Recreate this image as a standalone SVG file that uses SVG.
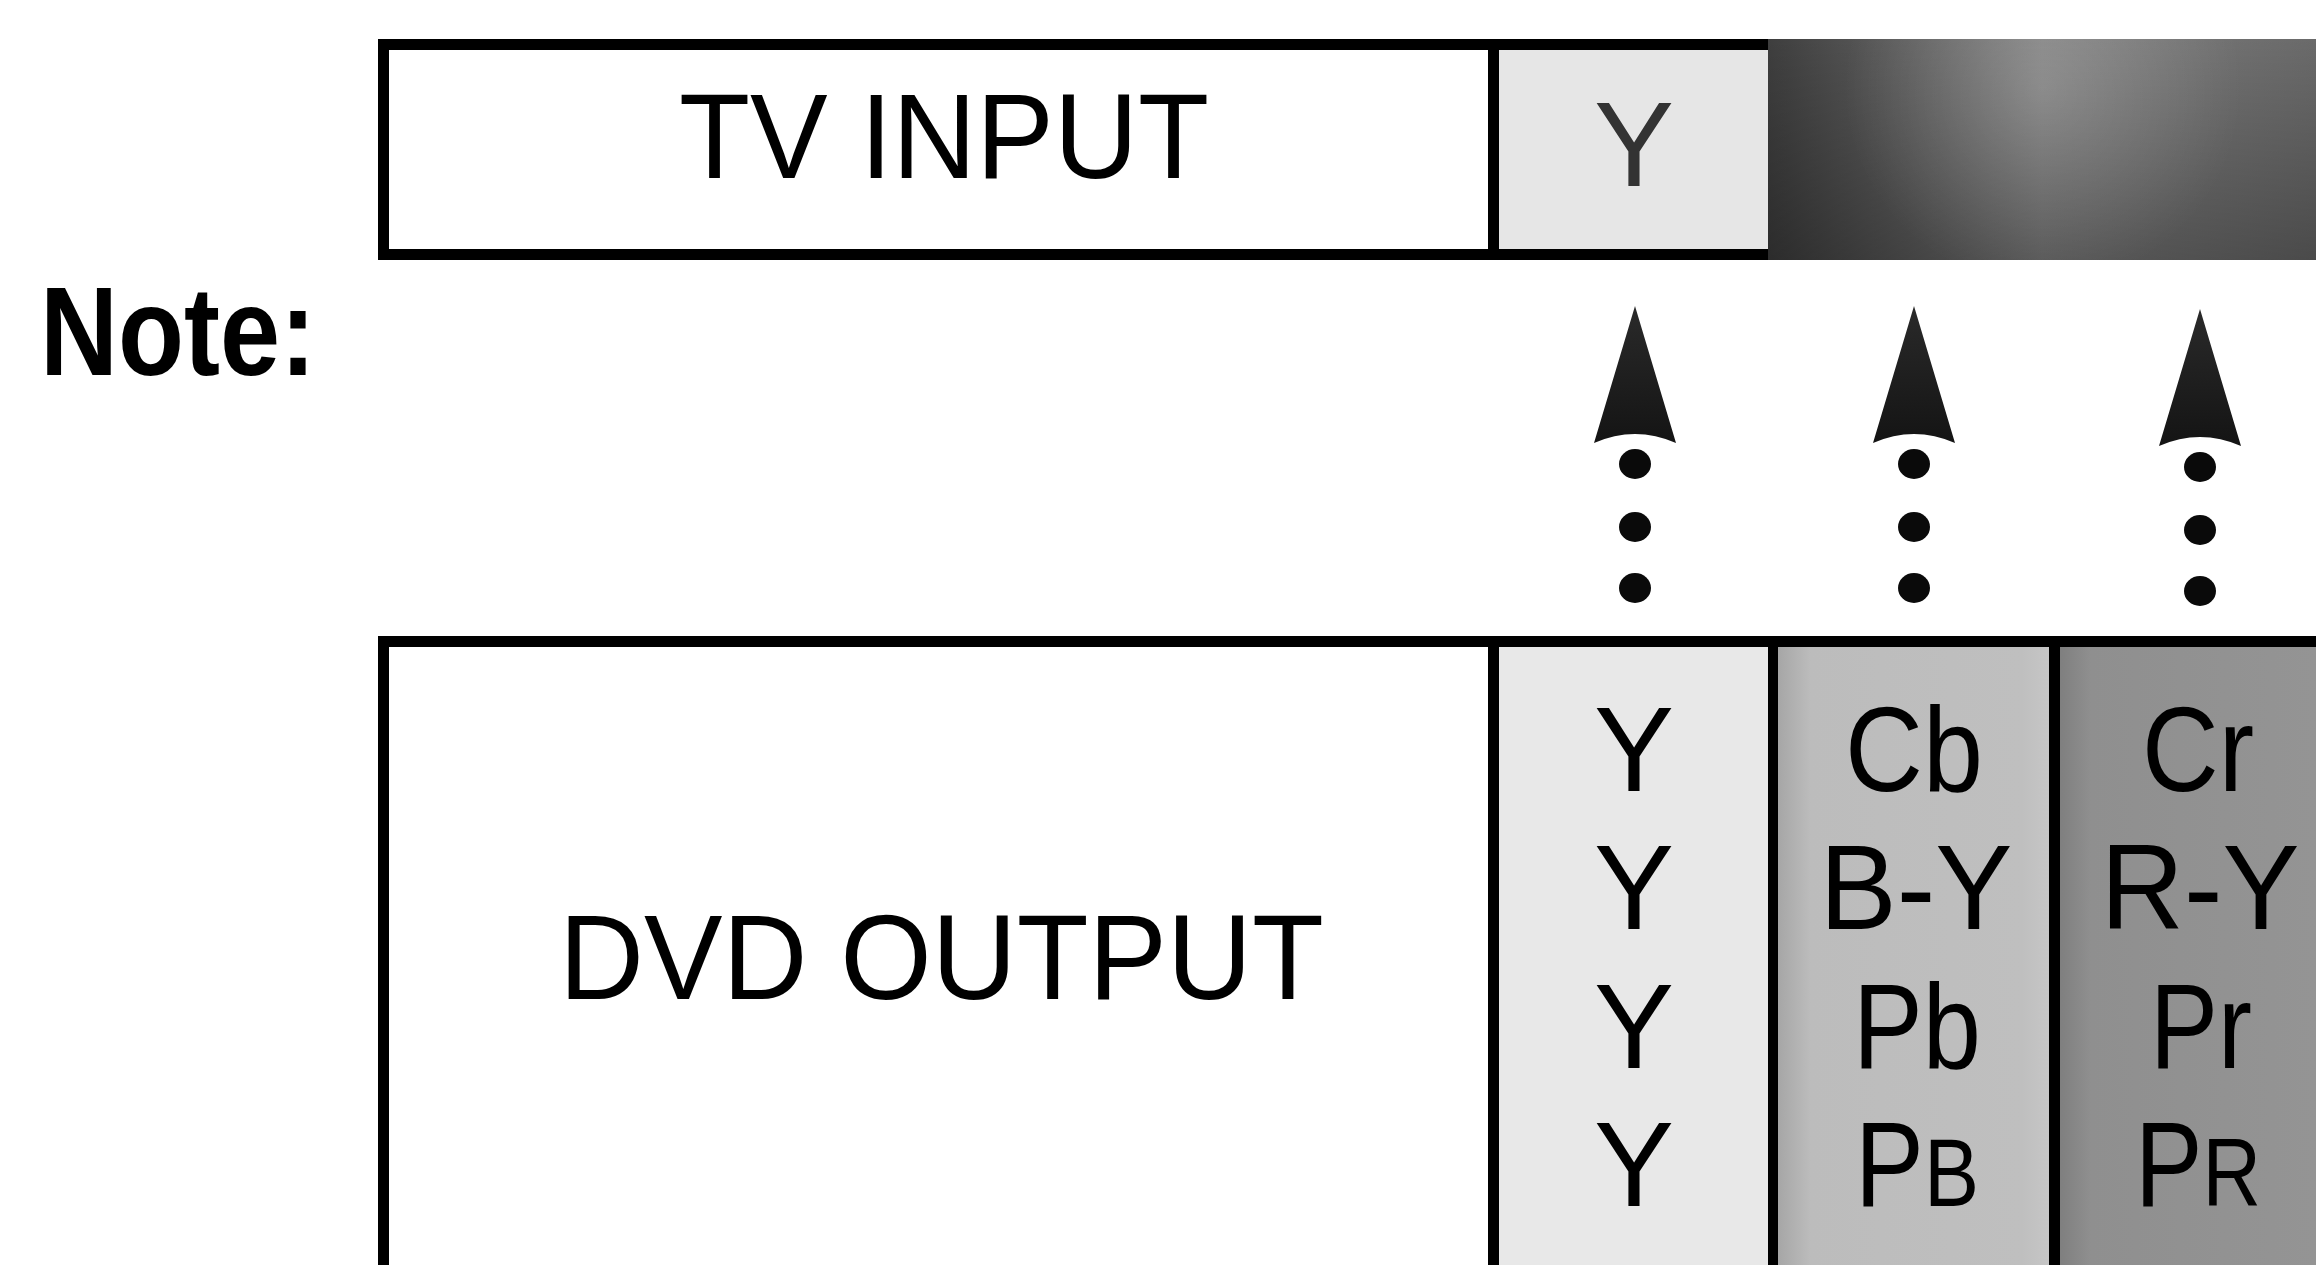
<svg xmlns="http://www.w3.org/2000/svg" width="2316" height="1265" viewBox="0 0 2316 1265">
  <defs>
    <style>
      .lbl { font-family: "Liberation Sans", Arial, sans-serif; font-size: 120px; fill: #000; }
      .mid { text-anchor: middle; }
      .note { font-family: "Liberation Sans", Arial, sans-serif; font-size: 126px; font-weight: bold; fill: #000; }
      .bar { fill: none; stroke: #000; stroke-width: 11; }
      .dot { fill: #0a0a0a; }
    </style>
    <linearGradient id="topBorder" gradientUnits="userSpaceOnUse" x1="1130" y1="0" x2="1770" y2="0">
      <stop offset="0" stop-color="#000"/>
      <stop offset="1" stop-color="#444"/>
    </linearGradient>
    <linearGradient id="darkBase" gradientUnits="userSpaceOnUse" x1="1768" y1="0" x2="2316" y2="0">
      <stop offset="0" stop-color="#3e3e3e"/>
      <stop offset="0.5" stop-color="#7e7e7e"/>
      <stop offset="1" stop-color="#6a6a6a"/>
    </linearGradient>
    <linearGradient id="darkShade" gradientUnits="userSpaceOnUse" x1="0" y1="39" x2="0" y2="260">
      <stop offset="0" stop-color="#000" stop-opacity="0"/>
      <stop offset="1" stop-color="#000" stop-opacity="0.3"/>
    </linearGradient>
    <radialGradient id="darkGlow" gradientUnits="userSpaceOnUse" cx="2043" cy="87" r="200">
      <stop offset="0" stop-color="#fff" stop-opacity="0.16"/>
      <stop offset="1" stop-color="#fff" stop-opacity="0"/>
    </radialGradient>
    <linearGradient id="colB" gradientUnits="userSpaceOnUse" x1="1778" y1="0" x2="2049" y2="0">
      <stop offset="0" stop-color="#a6a6a6"/>
      <stop offset="0.12" stop-color="#bcbcbc"/>
      <stop offset="0.9" stop-color="#bfbfbf"/>
      <stop offset="1" stop-color="#c6c6c6"/>
    </linearGradient>
    <linearGradient id="colC" gradientUnits="userSpaceOnUse" x1="2060" y1="0" x2="2316" y2="0">
      <stop offset="0" stop-color="#7f7f7f"/>
      <stop offset="0.12" stop-color="#8f8f8f"/>
      <stop offset="1" stop-color="#949494"/>
    </linearGradient>
    <linearGradient id="arrowFill" x1="0" y1="0" x2="0" y2="1">
      <stop offset="0" stop-color="#2a2a2a"/>
      <stop offset="1" stop-color="#141414"/>
    </linearGradient>
    <path id="head" d="M0,0 L41,137 Q0,119 -41,137 Z" fill="url(#arrowFill)"/>
  </defs>

  <rect x="0" y="0" width="2316" height="1265" fill="#fff"/>

  <g id="note">
    <text class="note" x="40" y="375" textLength="276" lengthAdjust="spacingAndGlyphs">Note:</text>
  </g>

  <g id="tv-input">
    <rect x="1499" y="50" width="269" height="199" fill="#e6e6e6"/>
    <path class="bar" d="M383.5,39 V260"/>
    <path class="bar" d="M378,44.5 H1770" stroke="url(#topBorder)"/>
    <path class="bar" d="M378,254.5 H1770" stroke="url(#topBorder)"/>
    <path class="bar" d="M1493.5,50 V249" stroke="#111"/>
    <rect x="1768" y="39" width="548" height="221" fill="url(#darkBase)"/>
    <rect x="1768" y="39" width="548" height="221" fill="url(#darkShade)"/>
    <rect x="1768" y="39" width="548" height="221" fill="url(#darkGlow)"/>
    <text class="lbl" x="679" y="178" textLength="530" lengthAdjust="spacingAndGlyphs">TV INPUT</text>
    <text class="lbl mid" x="1634" y="186" fill="#333" style="fill:#333">Y</text>
  </g>

  <g id="dvd-output">
    <rect x="1499" y="647" width="269" height="618" fill="#e8e8e8"/>
    <rect x="1778" y="647" width="271" height="618" fill="url(#colB)"/>
    <rect x="2060" y="647" width="256" height="618" fill="url(#colC)"/>
    <path class="bar" d="M383.5,636 V1265"/>
    <path class="bar" d="M378,641.5 H2316"/>
    <path class="bar" d="M1493.5,647 V1265"/>
    <path class="bar" d="M1773,647 V1265" style="stroke-width:10"/>
    <path class="bar" d="M2054.5,647 V1265"/>
    <text class="lbl" x="559" y="999" textLength="765" lengthAdjust="spacingAndGlyphs">DVD OUTPUT</text>
    <text class="lbl mid" x="1634" y="791">Y</text>
    <text class="lbl mid" x="1634" y="929">Y</text>
    <text class="lbl mid" x="1634" y="1068">Y</text>
    <text class="lbl mid" x="1634" y="1206">Y</text>
    <text class="lbl mid" x="1914" y="791" textLength="138" lengthAdjust="spacingAndGlyphs">Cb</text>
    <text class="lbl mid" x="1916" y="929" textLength="193" lengthAdjust="spacingAndGlyphs">B-Y</text>
    <text class="lbl mid" x="1917" y="1068" textLength="128" lengthAdjust="spacingAndGlyphs">Pb</text>
    <text class="lbl mid" x="1917" y="1206" textLength="124" lengthAdjust="spacingAndGlyphs">P<tspan style="font-size:96px">B</tspan></text>
    <text class="lbl mid" x="2198" y="791" textLength="112" lengthAdjust="spacingAndGlyphs">Cr</text>
    <text class="lbl mid" x="2200" y="929" textLength="199" lengthAdjust="spacingAndGlyphs">R-Y</text>
    <text class="lbl mid" x="2201" y="1068" textLength="102" lengthAdjust="spacingAndGlyphs">Pr</text>
    <text class="lbl mid" x="2198" y="1206" textLength="126" lengthAdjust="spacingAndGlyphs">P<tspan style="font-size:96px">R</tspan></text>
  </g>

  <g id="connectors">
    <g id="arrow-y" transform="translate(1635,306)">
      <use href="#head"/>
      <ellipse class="dot" cx="0" cy="158" rx="16" ry="15"/>
      <ellipse class="dot" cx="0" cy="221" rx="16" ry="15"/>
      <ellipse class="dot" cx="0" cy="282" rx="16" ry="15"/>
    </g>
    <g id="arrow-cb" transform="translate(1914,306)">
      <use href="#head"/>
      <ellipse class="dot" cx="0" cy="158" rx="16" ry="15"/>
      <ellipse class="dot" cx="0" cy="221" rx="16" ry="15"/>
      <ellipse class="dot" cx="0" cy="282" rx="16" ry="15"/>
    </g>
    <g id="arrow-cr" transform="translate(2200,309)">
      <use href="#head"/>
      <ellipse class="dot" cx="0" cy="158" rx="16" ry="15"/>
      <ellipse class="dot" cx="0" cy="221" rx="16" ry="15"/>
      <ellipse class="dot" cx="0" cy="282" rx="16" ry="15"/>
    </g>
  </g>
</svg>
